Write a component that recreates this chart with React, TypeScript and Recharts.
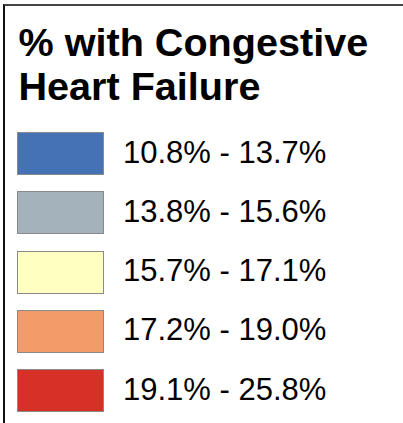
import React from 'react';
import { BarChart, Bar, Legend } from 'recharts';

const titleLines = ['% with Congestive', 'Heart Failure'];
const classLabels = [
  '10.8% - 13.7%',
  '13.8% - 15.6%',
  '15.7% - 17.1%',
  '17.2% - 19.0%',
  '19.1% - 25.8%',
];
const classColors = ['#4472B4', '#A4B2BC', '#FFFFC2', '#F49B6A', '#D73027'];
const classKeys = ['c1', 'c2', 'c3', 'c4', 'c5'];

const FONT = '"Liberation Sans", Arial, sans-serif';

function LegendBoxes(props: any) {
  const payload =
    props.payload && props.payload.length
      ? props.payload
      : classLabels.map((v, i) => ({ value: v, color: classColors[i] }));
  return (
    <div>
      {payload.map((entry: any, i: number) => (
        <div
          key={i}
          style={{
            display: 'flex',
            alignItems: 'center',
            height: 43,
            marginBottom: i < payload.length - 1 ? 16.3 : 0,
          }}
        >
          <div
            style={{
              width: 85,
              height: 41,
              background: entry.color,
              border: '1px solid #8a8a8a',
            }}
          />
          <span
            style={{
              marginLeft: 19,
              fontSize: 31,
              fontFamily: FONT,
              color: '#000',
              position: 'relative',
              top: -1,
            }}
          >
            {entry.value}
          </span>
        </div>
      ))}
    </div>
  );
}

export default function App() {
  return (
    <div
      style={{
        position: 'absolute',
        left: 0,
        top: 0,
        width: 403,
        height: 423,
        background: '#fff',
        overflow: 'hidden',
      }}
    >
      <div
        style={{
          position: 'absolute',
          left: 3,
          top: 4,
          width: 400,
          height: 419,
          borderTop: '2px solid #444',
          borderLeft: '2px solid #111',
        }}
      />
      <div
        style={{
          position: 'absolute',
          left: 18.5,
          top: 20.3,
          fontFamily: FONT,
          fontWeight: 'bold',
          fontSize: 39.6,
          lineHeight: '44px',
          color: '#000',
          whiteSpace: 'nowrap',
        }}
      >
        {titleLines.map((t) => (
          <div key={t}>{t}</div>
        ))}
      </div>
      <div style={{ position: 'absolute', left: 0, top: 0 }}>
        <BarChart width={403} height={423} data={[]} margin={{ top: 0, right: 0, bottom: 0, left: 0 }}>
          {classKeys.map((k, i) => (
            <Bar
              key={k}
              dataKey={k}
              name={classLabels[i]}
              fill={classColors[i]}
              isAnimationActive={false}
            />
          ))}
          <Legend
            layout="vertical"
            align="left"
            verticalAlign="top"
            content={<LegendBoxes />}
            wrapperStyle={{ position: 'absolute', left: 17, top: 132, width: 380 }}
          />
        </BarChart>
      </div>
    </div>
  );
}
